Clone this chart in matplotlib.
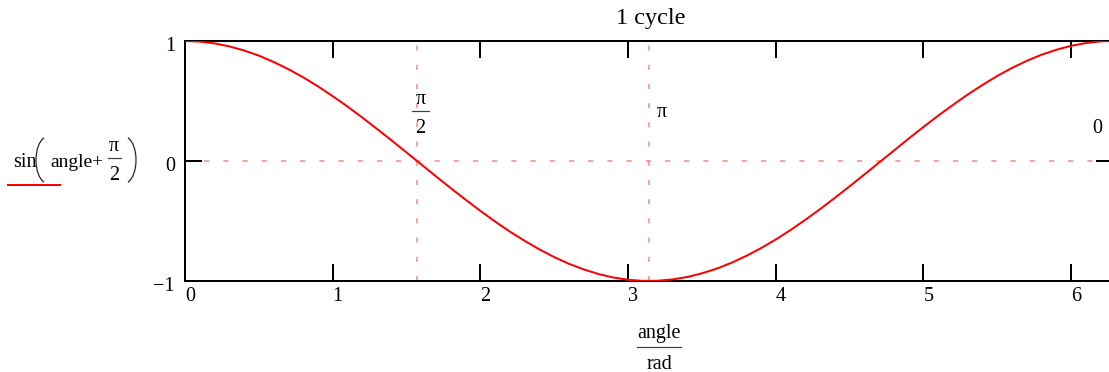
import numpy as np
import matplotlib
matplotlib.use('Agg')
import matplotlib.pyplot as plt
from matplotlib.lines import Line2D
from matplotlib.patches import Arc
from matplotlib.transforms import ScaledTranslation

# values (one full cycle of sin(angle + pi/2))
angle = [0.0, 0.1, 0.2, 0.3, 0.4, 0.5, 0.6, 0.7, 0.8, 0.9,
         1.0, 1.1, 1.2, 1.3, 1.4, 1.5, 1.6, 1.7, 1.8, 1.9,
         2.0, 2.1, 2.2, 2.3, 2.4, 2.5, 2.6, 2.7, 2.8, 2.9,
         3.0, 3.1, 3.2, 3.3, 3.4, 3.5, 3.6, 3.7, 3.8, 3.9,
         4.0, 4.1, 4.2, 4.3, 4.4, 4.5, 4.6, 4.7, 4.8, 4.9,
         5.0, 5.1, 5.2, 5.3, 5.4, 5.5, 5.6, 5.7, 5.8, 5.9,
         6.0, 6.1, 6.2, 6.28]
value = [1.000, 0.995, 0.980, 0.955, 0.921, 0.878, 0.825, 0.765, 0.697, 0.622,
         0.540, 0.454, 0.362, 0.267, 0.170, 0.071, -0.029, -0.129, -0.227, -0.323,
         -0.416, -0.505, -0.589, -0.666, -0.737, -0.801, -0.857, -0.904, -0.942, -0.971,
         -0.990, -0.999, -0.998, -0.987, -0.967, -0.936, -0.897, -0.848, -0.791, -0.726,
         -0.654, -0.575, -0.490, -0.401, -0.307, -0.211, -0.112, -0.012, 0.087, 0.187,
         0.284, 0.378, 0.468, 0.554, 0.634, 0.709, 0.776, 0.835, 0.886, 0.927,
         0.960, 0.983, 0.997, 1.000]

x_ticks = [0, 1, 2, 3, 4, 5, 6]
x_ticklabels = ['0', '1', '2', '3', '4', '5', '6']
y_ticks = [-1, 0, 1]
y_ticklabels = ['\u22121', '0', '1']

x_markers = [np.pi / 2, np.pi]
y_marker = 0
y_marker_label = '0'

W, H, DPI = 1109, 372, 100
PT = 72.0 / DPI  # points per pixel
FS = 14.5

plt.rcParams['font.family'] = ['Liberation Serif', 'DejaVu Serif']
plt.rcParams['font.size'] = FS

fig = plt.figure(figsize=(W / DPI, H / DPI), dpi=DPI)
# plot box in pixels: left 185, right 1113 (just past the edge), top 41, bottom 281
ax = fig.add_axes([185 / W, 1 - 281 / H, 928 / W, 240 / H])
inch = fig.dpi_scale_trans


def P(x, y):
    # pixel position (from top-left) -> inches for dpi_scale_trans
    return x / DPI, (H - y) / DPI


def put(x, y, s, ha='left', size=FS):
    fig.text(*P(x, y), s, ha=ha, va='baseline', fontsize=size, transform=inch)


def frac(xc, ybar, half, num, den, up, down, size=FS):
    put(xc, ybar - up, num, ha='center', size=size)
    put(xc, ybar + down, den, ha='center', size=size)
    (x0, y0), (x1, _) = P(xc - half, ybar), P(xc + half, ybar)
    fig.add_artist(Line2D([x0, x1], [y0, y0], transform=inch,
                          color='#404040', lw=1.2 * PT))


marker_col = '#ff8080'
for xm in x_markers:
    ax.axvline(xm, color=marker_col, lw=1.5 * PT, dashes=(3.3, 9.5), zorder=1)
ax.axhline(y_marker, color=marker_col, lw=1.5 * PT, dashes=(3.3, 9.5), zorder=1)

ax.plot(angle, value, color='#ff0000', lw=2 * PT, zorder=3)

ax.set_xlim(0, 2 * np.pi)
ax.set_ylim(-1, 1)

for s in ax.spines.values():
    s.set_linewidth(2 * PT)

ax.set_xticks(x_ticks)
ax.set_xticklabels(x_ticklabels)
ax.set_yticks(y_ticks)
ax.set_yticklabels(y_ticklabels)
ax.tick_params(axis='x', direction='in', length=17 * PT, width=2 * PT,
               top=True, bottom=True, pad=6 * PT, labelsize=FS)
ax.tick_params(axis='y', direction='in', length=17 * PT, width=2 * PT,
               left=True, right=True, pad=10 * PT, labelsize=FS)
shift = ScaledTranslation(5 / DPI, 0, fig.dpi_scale_trans)
for lab in ax.get_xticklabels():
    lab.set_transform(lab.get_transform() + shift)
down = ScaledTranslation(0, -3 / DPI, fig.dpi_scale_trans)
for lab in ax.get_yticklabels():
    lab.set_transform(lab.get_transform() + down)

# marker labels (pixel x of each marker from the data transform)
mx = [ax.transData.transform((xm, 0))[0] for xm in x_markers]
frac(mx[0] + 3.5, 111, 8.5, '\u03c0', '2', 7, 22)
put(mx[1] + 8, 117, '\u03c0')
put(1097, 133, y_marker_label, ha='center')

put(651, 24, '1 cycle', ha='center', size=17.5)

# x axis label
frac(659, 347, 22, 'angle', 'rad', 9, 22)

# trace legend on the left
put(13, 167, 'sin')
put(50, 167, 'angle+', size=14)
frac(114, 158, 6.5, '\u03c0', '2', 7, 22)
for xc, t1, t2 in [(48, 100, 260), (124, -80, 80)]:
    fig.add_artist(Arc(P(xc, 160), 24 / DPI, 47 / DPI, theta1=t1, theta2=t2,
                       transform=inch, color='#202020', lw=1.2 * PT))
fig.add_artist(Line2D([8 / W, 60 / W], [1 - 185 / H, 1 - 185 / H],
                      color='#ff0000', lw=2 * PT))

fig.savefig('out.png', dpi=DPI)
